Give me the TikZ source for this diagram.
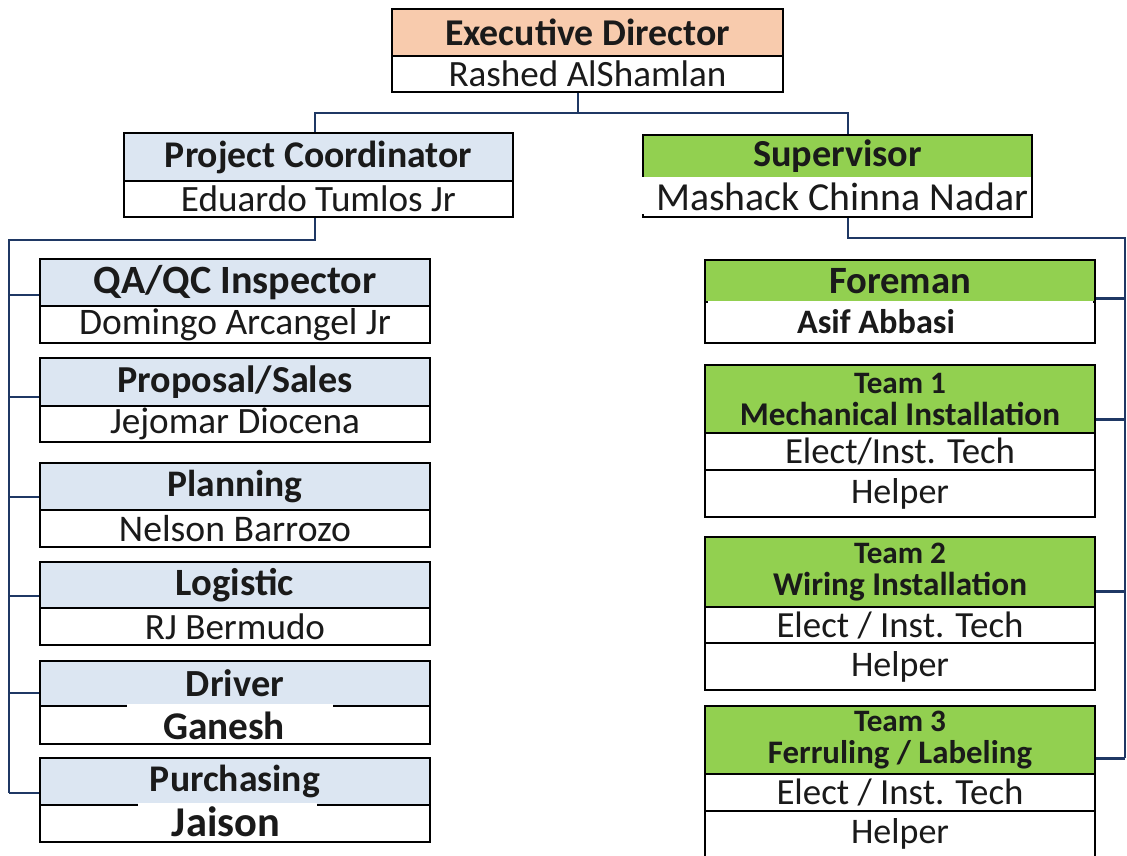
\documentclass[tikz,border=0pt]{standalone}
\usepackage{fontspec}
\setmainfont{Carlito}
\usepackage{graphicx}
\definecolor{peach}{HTML}{F8CBAD}
\definecolor{bluegray}{HTML}{DCE6F2}
\definecolor{lgreen}{HTML}{92D050}
\definecolor{navy}{HTML}{1F3864}
\definecolor{ink}{HTML}{1A1A1A}
\newcommand{\fw}[2]{\resizebox{#1pt}{!}{#2}}
\begin{document}
\begin{tikzpicture}[x=1pt,y=-1pt,
  cell/.style={draw=black, line width=2.4pt, inner sep=0pt, text=ink,
    font=\fontsize{24}{30}\selectfont, align=center},
  lcell/.style={cell, minimum width=390pt},
  txt/.style={inner sep=0pt, text=ink, font=\fontsize{24}{30}\selectfont},
  patch/.style={fill=white, draw=none},
  conn/.style={draw=navy, line width=2.6pt},
]
\clip (0,0) rectangle (1127,855);
\fill[white] (0,0) rectangle (1127,855);

% Executive director
\node[cell, fill=peach, minimum width=391pt, minimum height=47pt] (edh) at (587.5,32.5) {\fw{285}{\bfseries Executive Director}};
\node[cell, fill=white, minimum width=391pt, minimum height=36pt] (edn) at (587.5,74) {\fw{278}{Rashed AlShamlan}};

% Project coordinator
\node[cell, fill=bluegray, minimum width=389pt, minimum height=48pt] (pch) at (318.5,157) {\fw{307}{\bfseries Project Coordinator}};
\node[cell, fill=white, minimum width=389pt, minimum height=36pt] (pcn) at (318.5,199) {\fw{275}{Eduardo Tumlos Jr}};

% Supervisor
\node[cell, fill=lgreen, minimum width=389pt, minimum height=43pt] (suph) at (837.5,156.5) {\fw{169}{\bfseries Supervisor}};
\node[cell, fill=white, minimum width=389pt, minimum height=39pt] (supn) at (837.5,197.5) {};
\fill[patch] (641,176.5) rectangle (1030.5,214);
\node[txt] (supt) at (842,197) {\fw{372}{Mashack Chinna Nadar}};

% Left column
\node[lcell, fill=bluegray, minimum height=47pt] (qah) at (235,282.5) {\fw{283}{\bfseries QA/QC Inspector}};
\node[lcell, fill=white, minimum height=37pt] (qan) at (235,324.5) {\fw{312}{Domingo Arcangel Jr}};
\node[lcell, fill=bluegray, minimum height=48pt] (pph) at (235,382) {\fw{235}{\bfseries Proposal/Sales}};
\node[lcell, fill=white, minimum height=36pt] (ppn) at (235,424) {\fw{250}{Jejomar Diocena}};
\node[lcell, fill=bluegray, minimum height=47pt] (plh) at (235,486.5) {\fw{135}{\bfseries Planning}};
\node[lcell, fill=white, minimum height=37pt] (pln) at (235,528.5) {\fw{232}{Nelson Barrozo}};
\node[lcell, fill=bluegray, minimum height=46pt] (lgh) at (235,585) {\fw{118}{\bfseries Logistic}};
\node[lcell, fill=white, minimum height=37pt] (lgn) at (235,626.5) {\fw{180}{RJ Bermudo}};
\node[lcell, fill=bluegray, minimum height=45pt] (drh) at (235,683.5) {\fw{98}{\bfseries Driver}};
\node[lcell, fill=white, minimum height=38pt] (drn) at (235,725) {};
\fill[patch] (127,703.5) rectangle (333,709);
\node[txt] (drt) at (224,726) {\fw{122}{\bfseries Ganesh}};
\node[lcell, fill=bluegray, minimum height=47pt] (puh) at (235,781.5) {\fw{170}{\bfseries Purchasing}};
\node[lcell, fill=white, minimum height=37pt] (pun) at (235,823.5) {};
\fill[patch] (138,802.5) rectangle (317,808);
\node[txt] (put) at (226,822) {\fw{108}{\bfseries Jaison}};

% Right column
\node[lcell, fill=lgreen, minimum height=42pt] (forh) at (900,281) {\fw{142}{\bfseries Foreman}};
\node[lcell, fill=white, minimum height=41pt] (forn) at (900,322.5) {};
\fill[patch] (707.5,300.5) rectangle (1092.5,341.5);
\node[txt] (fort) at (876,322) {\fw{158}{\bfseries Asif Abbasi}};
\node[lcell, fill=lgreen, minimum height=68pt] (t1h) at (900,399) {\fw{92}{\bfseries Team 1}\\[2pt]\fw{320}{\bfseries Mechanical Installation}};
\node[lcell, fill=white, minimum height=37pt] (t1a) at (900,451.5) {\fw{230}{Elect/Inst. Tech}};
\node[lcell, fill=white, minimum height=47pt] (t1b) at (900,493.5) {\fw{98}{Helper}};
\node[lcell, fill=lgreen, minimum height=70pt] (t2h) at (900,572) {\fw{92}{\bfseries Team 2}\\[2pt]\fw{254}{\bfseries Wiring Installation}};
\node[lcell, fill=white, minimum height=36pt] (t2a) at (900,625) {\fw{247}{Elect / Inst. Tech}};
\node[lcell, fill=white, minimum height=47pt] (t2b) at (900,666.5) {\fw{98}{Helper}};
\node[lcell, fill=lgreen, minimum height=68pt] (t3h) at (900,740) {\fw{92}{\bfseries Team 3}\\[2pt]\fw{264}{\bfseries Ferruling / Labeling}};
\node[lcell, fill=white, minimum height=37pt] (t3a) at (900,792.5) {\fw{247}{Elect / Inst. Tech}};
\node[lcell, fill=white, minimum height=60pt] (t3b) at (900,841) {};
\node[txt] (t3bt) at (900,834) {\fw{98}{Helper}};

% connector guides
\coordinate (topbar) at (0,113);
\coordinate (edx) at (578,0);
\coordinate (pcx) at (315,0);
\coordinate (supx) at (848,0);
\coordinate (lbar) at (0,240);
\coordinate (lx) at (9,0);
\coordinate (rbar) at (0,238);
\coordinate (rx) at (1125,0);

% top connectors
\draw[conn] (edn.south -| edx) -- (topbar -| edx);
\draw[conn] (pch.north -| pcx) |- (topbar -| supx) -- (suph.north -| supx);

% left branch
\coordinate (sqa) at ([yshift=10pt]qan.north west);
\coordinate (spp) at ([yshift=8pt]ppn.north west);
\coordinate (spl) at ([yshift=12pt]pln.north west);
\coordinate (slg) at ([yshift=11pt]lgn.north west);
\coordinate (sdr) at ([yshift=12pt]drn.north west);
\coordinate (spu) at ([yshift=11pt]pun.north west);
\draw[conn] (pcn.south -| pcx) |- (lbar -| lx) -- (spu -| lx);
\foreach \s in {sqa,spp,spl,slg,sdr,spu}{\draw[conn] (\s -| lx) -- (\s);}

% right branch
\coordinate (sfo) at ([yshift=5pt]forh.south east);
\coordinate (st1) at ([yshift=15pt]t1h.south east);
\coordinate (st2) at ([yshift=17pt]t2h.south east);
\coordinate (st3) at ([yshift=17pt]t3h.south east);
\draw[conn] (supn.south -| supx) |- (rbar -| rx) -- (st3 -| rx);
\foreach \s in {sfo,st1,st2,st3}{\draw[conn] (\s) -- (\s -| rx);}
\end{tikzpicture}
\end{document}
